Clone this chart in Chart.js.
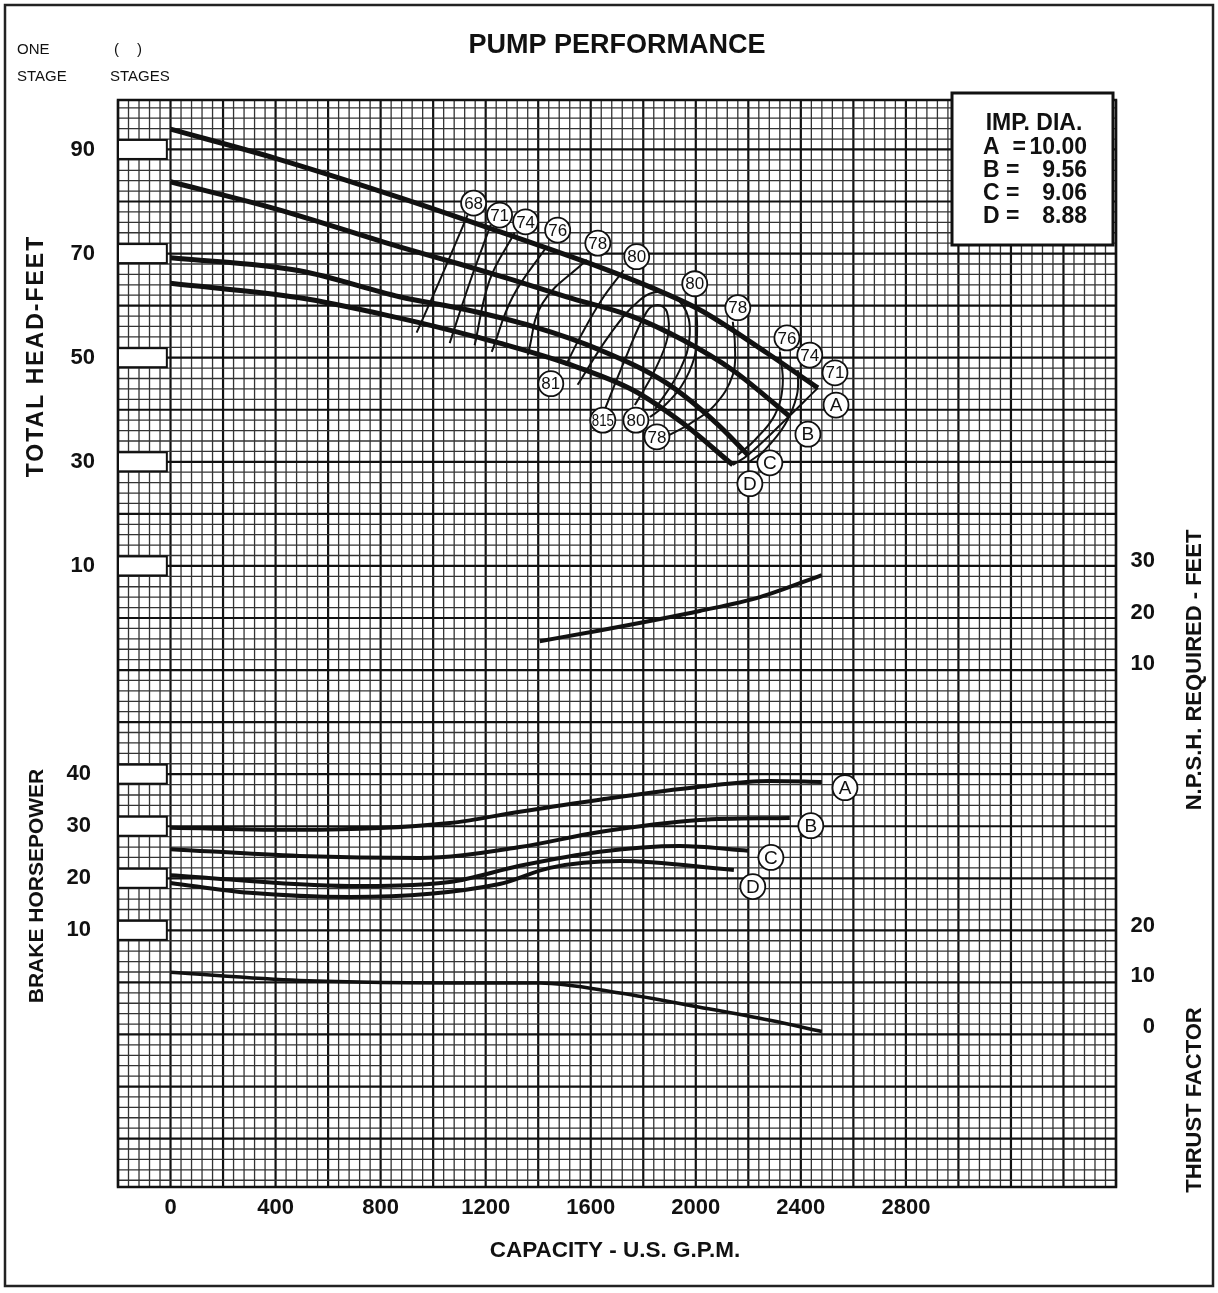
<!DOCTYPE html>
<html>
<head>
<meta charset="utf-8">
<script src="https://cdn.jsdelivr.net/npm/chart.js@4.4.0/dist/chart.umd.min.js"></script>
<style>
  html, body { margin: 0; padding: 0; background: #fff; }
  #chart { display: block; }
</style>
</head>
<body>
<canvas id="chart" width="1218" height="1293"></canvas>
<script>
// ---- data (capacity in U.S. gpm) ----
// total head curves, ft
const capHeadA = [0, 400, 876, 1253, 1634, 1825, 2015, 2271, 2465];
const headA    = [93.9, 88.3, 80.7, 74.2, 67.4, 63.6, 59.2, 50.9, 44.2];
const capHeadB = [0, 400, 872, 1100, 1300, 1508, 1760, 1951, 2141, 2358];
const headB    = [83.8, 78.6, 71.3, 68.0, 65.0, 61.7, 57.9, 53.4, 47.6, 38.7];
const capHeadC = [0, 491, 872, 1127, 1379, 1634, 1889, 2079, 2199];
const headC    = [69.2, 66.7, 61.7, 59.2, 56.0, 51.5, 45.1, 37.4, 31.3];
const capHeadD = [0, 491, 872, 1063, 1253, 1508, 1760, 1951, 2141];
const headD    = [64.3, 61.5, 57.6, 55.3, 52.8, 48.9, 43.8, 37.4, 29.4];

// efficiency contours, % (capacity, head pairs)
const eff68Cap  = [1131, 1036, 937];
const eff68Head = [77.4, 66.1, 54.8];
const eff71Cap  = [1219, 1139, 1063];
const eff71Head = [75.5, 64.4, 52.8];
const eff74Cap  = [1310, 1215, 1158];
const eff74Head = [74.0, 64.9, 52.4];
const eff76Cap  = [1432, 1303, 1223];
const eff76Head = [71.3, 61.7, 51.1];
const eff78Cap  = [1585, 1417, 1360];
const eff78Head = [68.8, 60.5, 50.5];
const eff80Cap  = [1725, 1640, 1560, 1505];
const eff80Head = [66.8, 61.0, 54.0, 48.5];
const eff81Cap  = [1550, 1672, 1787, 1863, 1950, 1977, 1939, 1844];
const eff81Head = [44.8, 54.4, 61.1, 62.6, 60.1, 54.4, 47.6, 40.0];
const eff815Cap  = [1653, 1730, 1813, 1855, 1890, 1893, 1844, 1768];
const eff815Head = [40.0, 49.6, 58.8, 60.1, 58.8, 54.0, 47.6, 40.9];
const eff80RCap  = [2000, 2005, 1995, 1945, 1875, 1825];
const eff80RHead = [60.8, 55.3, 50.1, 44.5, 40.5, 38.6];
const eff78RCap  = [2141, 2149, 2141, 2072, 1977, 1893];
const eff78RHead = [56.9, 52.4, 46.7, 40.9, 37.3, 35.0];
const eff76RCap  = [2320, 2331, 2301, 2225, 2160];
const eff76RHead = [51.1, 44.8, 39.0, 34.2, 31.3];
const eff74RCap  = [2389, 2385, 2339, 2263, 2198];
const eff74RHead = [47.6, 42.8, 37.1, 32.3, 29.8];
const eff71RCap  = [2465, 2330, 2199, 2141];
const eff71RHead = [44.2, 37.5, 31.3, 29.4];

// npsh required, ft
const capNpsh = [1406, 1634, 2015, 2244, 2480];
const npsh    = [14.4, 16.5, 20.3, 23.0, 27.3];

// brake horsepower
const capBhpA = [0, 491, 1063, 1330, 1634, 2015, 2282, 2480];
const bhpA    = [29.7, 29.3, 30.6, 32.8, 35.1, 37.6, 38.7, 38.5];
const capBhpB = [0, 491, 949, 1330, 1634, 2015, 2358];
const bhpB    = [25.6, 24.3, 23.9, 26.0, 28.9, 31.2, 31.6];
const capBhpC = [0, 682, 1063, 1330, 1634, 1939, 2199];
const bhpC    = [20.6, 18.5, 19.3, 22.4, 25.1, 26.2, 25.3];
const capBhpD = [0, 301, 682, 1253, 1444, 1711, 2145];
const bhpD    = [19.1, 17.2, 16.4, 18.9, 22.0, 23.3, 21.6];

// thrust factor
const capThrust = [0, 491, 1253, 1406, 1711, 2015, 2282, 2480];
const thrust    = [10.8, 9.2, 8.7, 8.7, 6.7, 3.9, 1.3, -0.9];

// tick labels
const capTicks    = [0, 400, 800, 1200, 1600, 2000, 2400, 2800];
const headTicks   = [90, 70, 50, 30, 10];
const bhpTicks    = [40, 30, 20, 10];
const npshTicks   = [30, 20, 10];
const thrustTicks = [20, 10, 0];

// circled curve labels
const effLabels    = ['68', '71', '74', '76', '78', '80', '80', '78', '76', '74', '71', '81', '815', '80', '78'];
const effLabelCap  = [1154, 1253, 1352, 1474, 1627, 1775, 1996, 2160, 2347, 2434, 2530, 1448, 1646, 1772, 1852];
const effLabelHead = [79.7, 77.4, 76.1, 74.5, 72.0, 69.4, 64.2, 59.6, 53.8, 50.5, 47.1, 45.0, 38.0, 38.0, 34.8];
const impLetters     = ['A', 'B', 'C', 'D'];
const impDiameters   = ['10.00', '9.56', '9.06', '8.88'];
const headLetterCap  = [2534, 2427, 2282, 2206];
const headLetterHead = [40.9, 35.3, 29.8, 25.8];
const bhpLetterCap   = [2568, 2438, 2286, 2217];
const bhpLetterBhp   = [37.4, 30.1, 24.0, 18.4];

const FONT = '"Liberation Sans", Arial, Helvetica, sans-serif';
const INK = '#111';

function pts(xs, ys) {
  return xs.map(function (x, i) { return { x: x, y: ys[i] }; });
}

function curve(label, xs, ys, axis, width) {
  return {
    label: label,
    data: pts(xs, ys),
    yAxisID: axis,
    borderColor: INK,
    borderWidth: width,
    pointRadius: 0,
    fill: false,
    cubicInterpolationMode: 'monotone'
  };
}

function contour(label, xs, ys) {
  return {
    label: label,
    data: pts(xs, ys),
    yAxisID: 'yHead',
    borderColor: INK,
    borderWidth: 2,
    pointRadius: 0,
    fill: false,
    tension: 0.4
  };
}

function circled(ctx, text, px, py, size) {
  ctx.beginPath();
  ctx.arc(px, py, 12.5, 0, Math.PI * 2);
  ctx.fillStyle = '#fff';
  ctx.fill();
  ctx.lineWidth = 1.8;
  ctx.strokeStyle = INK;
  ctx.stroke();
  ctx.fillStyle = INK;
  ctx.font = size + 'px ' + FONT;
  ctx.textAlign = 'center';
  ctx.textBaseline = 'middle';
  if (text.length > 2) {
    // three digits squeezed into the circle
    ctx.save();
    ctx.translate(px, py + 1);
    ctx.scale(0.78, 1);
    ctx.fillText(text, 0, 0);
    ctx.restore();
  } else {
    ctx.fillText(text, px, py + 1);
  }
}

function rotatedText(ctx, text, px, py, spacing) {
  ctx.save();
  ctx.translate(px, py);
  ctx.rotate(-Math.PI / 2);
  ctx.letterSpacing = spacing || '0px';
  ctx.textAlign = 'center';
  ctx.textBaseline = 'middle';
  ctx.fillText(text, 0, 0);
  ctx.restore();
}

// graph paper, boxes, labels and frame
const sheetPlugin = {
  id: 'sheet',
  beforeDraw: function (chart) {
    const ctx = chart.ctx;
    ctx.save();
    ctx.fillStyle = '#fff';
    ctx.fillRect(0, 0, chart.width, chart.height);
    ctx.restore();
  },
  beforeDatasetsDraw: function (chart) {
    const ctx = chart.ctx;
    const area = chart.chartArea;
    const sx = chart.scales.x;
    const sy = chart.scales.yHead;
    ctx.save();
    // vertical lines every 40 gpm, heavy every 200
    for (let q = sx.min; q <= sx.max + 0.01; q += 40) {
      const px = sx.getPixelForValue(q);
      const major = Math.abs(q % 200) < 0.01;
      ctx.beginPath();
      ctx.lineWidth = major ? 2.2 : 1.3;
      ctx.strokeStyle = major ? '#111' : '#333';
      ctx.moveTo(px, area.top);
      ctx.lineTo(px, area.bottom);
      ctx.stroke();
    }
    // horizontal lines every 2 ft, heavy every 10
    for (let h = Math.ceil(sy.min / 2) * 2; h <= sy.max; h += 2) {
      const py = sy.getPixelForValue(h);
      const major = Math.abs(h % 10) < 0.01;
      ctx.beginPath();
      ctx.lineWidth = major ? 2.2 : 1.3;
      ctx.strokeStyle = major ? '#111' : '#333';
      ctx.moveTo(area.left, py);
      ctx.lineTo(area.right, py);
      ctx.stroke();
    }
    ctx.lineWidth = 2.5;
    ctx.strokeStyle = '#111';
    ctx.strokeRect(area.left, area.top, area.right - area.left, area.bottom - area.top);

    // stage boxes on the left margin
    const x0 = area.left;
    const x1 = sx.getPixelForValue(-14);
    function box(py) {
      ctx.fillStyle = '#fff';
      ctx.fillRect(x0, py - 9.5, x1 - x0, 19);
      ctx.lineWidth = 2;
      ctx.strokeStyle = '#111';
      ctx.strokeRect(x0, py - 9.5, x1 - x0, 19);
    }
    headTicks.forEach(function (v) { box(sy.getPixelForValue(v)); });
    bhpTicks.forEach(function (v) { box(chart.scales.yBhp.getPixelForValue(v)); });
    ctx.restore();
  },
  afterDatasetsDraw: function (chart) {
    const ctx = chart.ctx;
    const sx = chart.scales.x;
    const sy = chart.scales.yHead;
    const sb = chart.scales.yBhp;
    const sn = chart.scales.yNpsh;
    const st = chart.scales.yThrust;
    ctx.save();

    // circled labels
    effLabels.forEach(function (t, i) {
      circled(ctx, t, sx.getPixelForValue(effLabelCap[i]), sy.getPixelForValue(effLabelHead[i]), 17);
    });
    impLetters.forEach(function (t, i) {
      circled(ctx, t, sx.getPixelForValue(headLetterCap[i]), sy.getPixelForValue(headLetterHead[i]), 19);
      circled(ctx, t, sx.getPixelForValue(bhpLetterCap[i]), sb.getPixelForValue(bhpLetterBhp[i]), 19);
    });

    // impeller diameter legend
    ctx.fillStyle = '#fff';
    ctx.fillRect(952, 93, 161, 152);
    ctx.lineWidth = 3;
    ctx.strokeStyle = '#111';
    ctx.strokeRect(952, 93, 161, 152);
    ctx.fillStyle = INK;
    ctx.font = 'bold 23px ' + FONT;
    ctx.textBaseline = 'middle';
    ctx.textAlign = 'center';
    ctx.fillText('IMP. DIA.', 1034, 124);
    impLetters.forEach(function (t, i) {
      const y = 148 + i * 23;
      ctx.textAlign = 'left';
      ctx.fillText(t + (i === 0 ? '  =' : ' ='), 983, y);
      ctx.textAlign = 'right';
      ctx.fillText(impDiameters[i], 1087, y);
    });

    // tick labels
    ctx.font = 'bold 22px ' + FONT;
    ctx.textBaseline = 'middle';
    ctx.textAlign = 'center';
    capTicks.forEach(function (v) { ctx.fillText(String(v), sx.getPixelForValue(v), 1208); });
    ctx.textAlign = 'right';
    headTicks.forEach(function (v) { ctx.fillText(String(v), 95, sy.getPixelForValue(v)); });
    bhpTicks.forEach(function (v) { ctx.fillText(String(v), 91, sb.getPixelForValue(v)); });
    npshTicks.forEach(function (v) { ctx.fillText(String(v), 1155, sn.getPixelForValue(v)); });
    thrustTicks.forEach(function (v) { ctx.fillText(String(v), 1155, st.getPixelForValue(v)); });

    // axis titles
    ctx.font = 'bold 22.5px ' + FONT;
    ctx.textAlign = 'center';
    ctx.fillText('CAPACITY - U.S. G.P.M.', 615, 1251);
    ctx.font = 'bold 23px ' + FONT;
    rotatedText(ctx, 'TOTAL HEAD-FEET', 37, 356, '2px');
    ctx.font = 'bold 21px ' + FONT;
    rotatedText(ctx, 'BRAKE HORSEPOWER', 37, 886);
    ctx.font = 'bold 22px ' + FONT;
    rotatedText(ctx, 'N.P.S.H. REQUIRED - FEET', 1195, 670);
    rotatedText(ctx, 'THRUST FACTOR', 1195, 1100);

    ctx.font = 'bold 27px ' + FONT;
    ctx.fillText('PUMP PERFORMANCE', 617, 46);

    ctx.font = '15px ' + FONT;
    ctx.textAlign = 'left';
    ctx.fillText('ONE', 17, 50);
    ctx.fillText('STAGE', 17, 77);
    ctx.fillText('(', 114, 50);
    ctx.fillText(')', 137, 50);
    ctx.fillText('STAGES', 110, 77);

    // page frame
    ctx.lineWidth = 2.5;
    ctx.strokeStyle = '#222';
    ctx.strokeRect(5, 5, 1208, 1281);
    ctx.restore();
  }
};

new Chart(document.getElementById('chart').getContext('2d'), {
  type: 'line',
  data: {
    datasets: [
      curve('Head A', capHeadA, headA, 'yHead', 5),
      curve('Head B', capHeadB, headB, 'yHead', 5),
      curve('Head C', capHeadC, headC, 'yHead', 5),
      curve('Head D', capHeadD, headD, 'yHead', 5),
      contour('68%', eff68Cap, eff68Head),
      contour('71%', eff71Cap, eff71Head),
      contour('74%', eff74Cap, eff74Head),
      contour('76%', eff76Cap, eff76Head),
      contour('78%', eff78Cap, eff78Head),
      contour('80%', eff80Cap, eff80Head),
      contour('81%', eff81Cap, eff81Head),
      contour('81.5%', eff815Cap, eff815Head),
      contour('80% R', eff80RCap, eff80RHead),
      contour('78% R', eff78RCap, eff78RHead),
      contour('76% R', eff76RCap, eff76RHead),
      contour('74% R', eff74RCap, eff74RHead),
      contour('71% R', eff71RCap, eff71RHead),
      curve('NPSH', capNpsh, npsh, 'yNpsh', 4),
      curve('BHP A', capBhpA, bhpA, 'yBhp', 4),
      curve('BHP B', capBhpB, bhpB, 'yBhp', 4),
      curve('BHP C', capBhpC, bhpC, 'yBhp', 4),
      curve('BHP D', capBhpD, bhpD, 'yBhp', 4),
      curve('Thrust', capThrust, thrust, 'yThrust', 3.5)
    ]
  },
  options: {
    responsive: false,
    animation: false,
    devicePixelRatio: 1,
    layout: { padding: { left: 118, top: 100, right: 102, bottom: 106 } },
    plugins: { legend: { display: false }, tooltip: { enabled: false } },
    scales: {
      x: { type: 'linear', min: -200, max: 3600, display: false },
      yHead: { type: 'linear', position: 'left', min: -109.3, max: 99.5, display: false },
      yBhp: { type: 'linear', position: 'left', min: -39.3, max: 169.5, display: false },
      yNpsh: { type: 'linear', position: 'right', min: -92.0, max: 119.9, display: false },
      yThrust: { type: 'linear', position: 'right', min: -31.7, max: 183.5, display: false }
    }
  },
  plugins: [sheetPlugin]
});
</script>
</body>
</html>
